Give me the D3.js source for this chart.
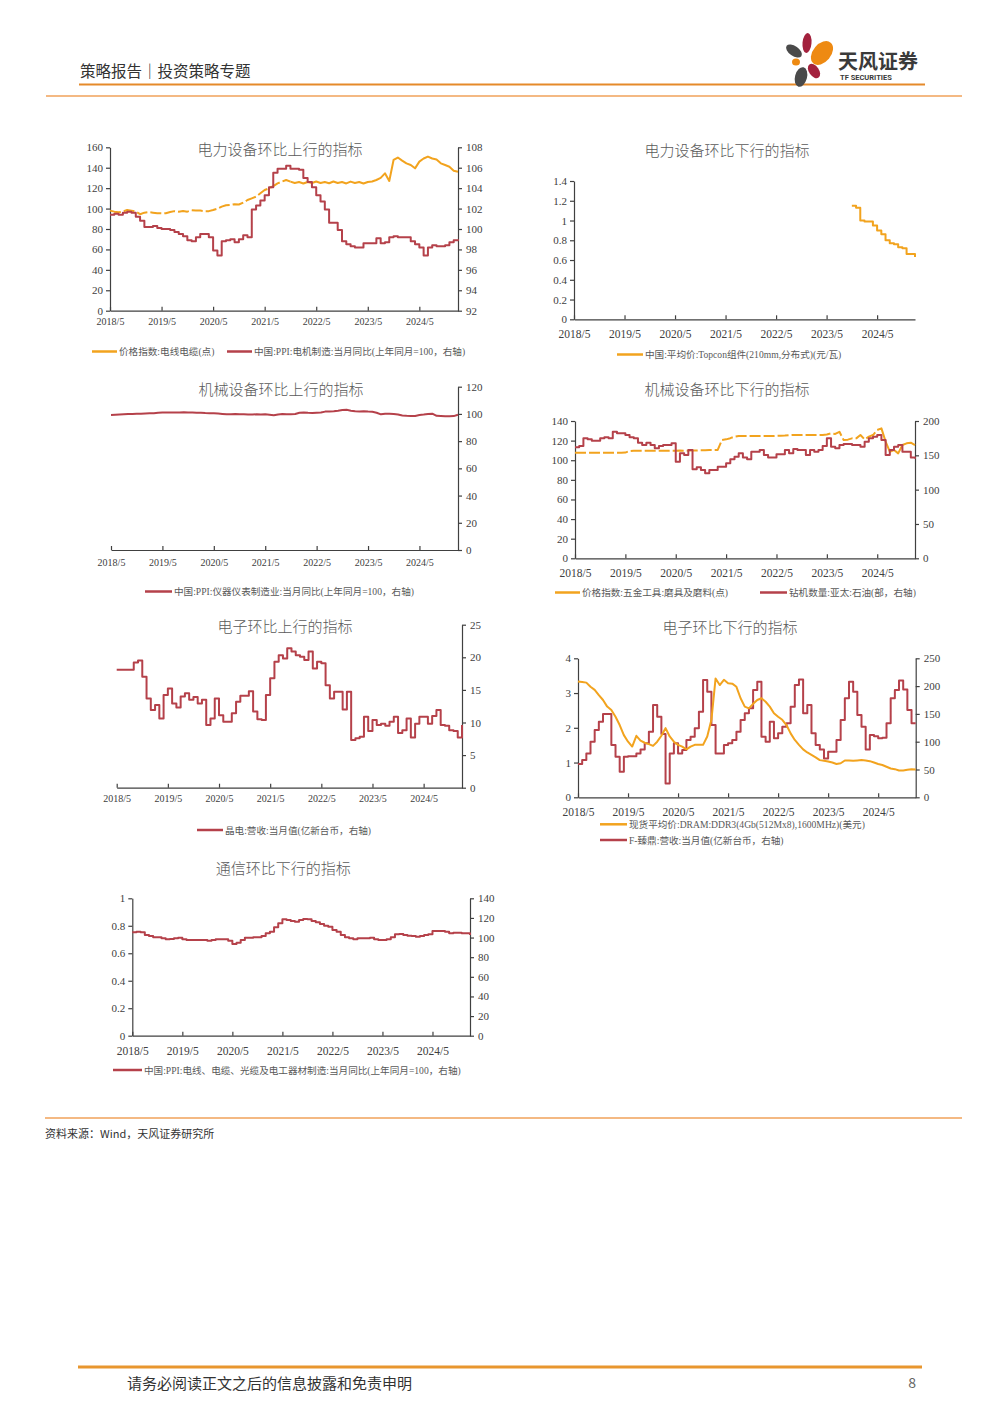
<!DOCTYPE html>
<html>
<head>
<meta charset="utf-8">
<script src="https://cdn.jsdelivr.net/npm/d3@7"></script>
<style>
  body { margin: 0; background: #fff; }
  svg { display: block; }
</style>
</head>
<body>
<div id="page"></div>
<script>
// ---------- data (monthly, 2018/5 .. 2025/2) ----------
const xTickLabels = ["2018/5", "2019/5", "2020/5", "2021/5", "2022/5", "2023/5", "2024/5"];
const monthCount = 82;

// 电力设备环比上行
const cableIndex = [
  98, 97, 96.5, 97, 98.6, 98, 97, 94.5, 96, 96.5,
  96, 95.5, 95.3, 95.5, 96.6, 97.5, 97, 97.6, 97, 98.3,
  98, 98, 97.5, 97.5, 98.6, 99.9, 101.9, 103.2, 103.5, 104.2,
  104, 105.8, 108.4, 110, 111.7, 115, 118.2, 119.8, 122, 124.7,
  126.4, 128, 126.4, 125, 126, 124.5, 126, 125, 126.5, 125,
  126, 124.8, 126.5, 125, 126, 124.6, 126.4, 125, 126, 124.5,
  126, 126.5, 128, 130, 134.5, 127, 147.6, 150, 147, 144.3,
  142.7, 139.4, 146, 149, 150.9, 149, 148, 144.3, 142.7, 141,
  137, 136
];
const motorPPI = [
  101.4, 101.5, 101.4, 101.6, 101.7, 101.6, 101.2, 100.8, 100.2, 100.2,
  100.3, 100.1, 100.0, 100.0, 99.9, 99.7, 99.5, 99.3, 98.9, 98.8,
  99.2, 99.5, 99.5, 99.2, 97.9, 97.4, 98.8, 98.9, 99.0, 98.7,
  99.0, 99.4, 99.2, 101.9, 102.3, 102.8, 103.3, 104.1, 105.5, 105.9,
  105.9, 106.2, 105.9, 105.9, 105.8, 105.0, 104.6, 104.1, 103.3, 102.7,
  101.9, 100.6, 100.6, 99.9, 98.8, 98.5, 98.3, 98.2, 98.2, 98.6,
  98.6, 98.6, 99.1, 98.6, 98.7, 99.2, 99.3, 99.2, 99.2, 99.2,
  98.8, 98.5, 98.2, 97.4, 98.2, 98.4, 98.3, 98.3, 98.4, 98.7,
  98.9, 99.0
];

// 电力设备环比下行 (Topcon starts 2023/11)
const topconStart = 66;
const topconPrice = [1.15, 1.13, 1.0, 0.99, 0.99, 0.95, 0.90, 0.86, 0.80, 0.77, 0.76, 0.73, 0.72, 0.66, 0.66, 0.63];

// 机械设备环比上行
const instrumentPPI = [
  99.2, 99.4, 99.6, 99.8, 99.9, 100.0, 100.1, 100.2, 100.3, 100.4,
  100.5, 100.8, 101.0, 101.1, 101.1, 101.0, 101.1, 101.2, 101.0, 101.1,
  100.9, 100.8, 100.6, 100.5, 100.4, 100.3, 100.0, 99.7, 99.8, 99.9,
  99.7, 99.8, 99.6, 99.5, 99.7, 99.5, 99.7, 99.4, 99.0, 99.6,
  99.9, 99.8, 99.8, 99.9, 100.9, 101.0, 100.8, 100.7, 100.9, 101.0,
  101.7, 101.8, 102.0, 102.4, 102.9, 103.0, 102.4, 101.9, 101.8, 102.0,
  101.7, 101.6, 100.9, 99.7, 100.2, 100.1, 100.0, 99.6, 98.9, 98.6,
  98.5, 98.5, 99.2, 99.5, 99.9, 100.2, 98.6, 98.5, 98.2, 98.3,
  98.4, 99.4
];

// 机械设备环比下行
const abrasivesIndex = [
  107.7, 107.7, 107.7, 107.6, 107.7, 107.7, 107.6, 107.7, 107.7, 107.6,
  107.7, 107.7, 107.8, 109.4, 109.7, 109.7, 109.6, 109.7, 109.7, 109.6,
  109.7, 109.7, 109.6, 109.7, 109.7, 109.8, 109.7, 109.8, 109.9, 110.0,
  110.1, 110.3, 110.4, 110.4, 110.5, 120.6, 121.3, 122.5, 124.0, 124.7,
  124.7, 124.7, 124.8, 124.7, 124.7, 124.8, 124.7, 124.7, 124.9, 125.0,
  125.2, 125.5, 125.7, 125.7, 125.6, 125.7, 125.7, 125.6, 125.7, 125.8,
  126.2, 127.4, 126.8, 129.0, 120.6, 121.0, 122.3, 122.3, 125.7, 121.3,
  124.0, 125.7, 130.8, 132.5, 119.0, 108.7, 110.4, 107.0, 115.5, 117.2,
  117.9, 115.5
];
const rigCountAPAC = [
  161.7, 163.6, 174.8, 173.3, 171.4, 171.4, 174.8, 176.2, 174.8, 184.5,
  182, 182, 179.6, 176.2, 174.8, 168.4, 165, 168.4, 165, 160.2,
  163.6, 165, 165, 167.5, 140.8, 152.9, 150.5, 157.8, 129.6, 132.5,
  128.6, 123.8, 128.6, 128.6, 133.5, 133.5, 138.3, 144.2, 148, 152.9,
  147, 144.2, 155.3, 155.3, 157.8, 150.5, 147, 147, 151.5, 151.5,
  157.8, 153, 159.2, 157.8, 157.8, 150.5, 157.8, 155.3, 157.8, 163.6,
  174.8, 162.6, 160.2, 165, 166.5, 166.5, 165, 165, 162.6, 169.9,
  174.8, 177.2, 179.6, 172.3, 150.5, 157.8, 162.6, 165, 155.3, 155.3,
  147, 145
];

// 电子环比上行
const epistarRevenue = [
  18.1, 18.1, 18.1, 18.1, 19.2, 19.5, 17.0, 13.7, 11.9, 12.7,
  10.6, 14.2, 15.2, 12.9, 12.3, 14.0, 14.5, 13.5, 13.9, 12.9,
  13.5, 9.6, 10.6, 13.7, 11.1, 10.1, 10.1, 11.4, 13.2, 14.1,
  14.1, 14.8, 11.7, 10.5, 10.4, 14.2, 16.8, 19.3, 20.3, 19.8,
  21.4, 20.9, 20.3, 20.1, 19.6, 20.9, 18.3, 19.3, 19.1, 15.7,
  13.7, 14.7, 14.7, 12.0, 14.7, 7.3, 7.6, 7.8, 10.9, 8.7,
  10.4, 9.6, 9.8, 9.5, 10.1, 10.9, 8.4, 8.8, 10.6, 7.7,
  9.8, 10.9, 10.9, 9.8, 11.0, 11.9, 9.6, 9.5, 8.8, 8.7,
  7.7, 9.6
];

// 电子环比下行
const dramPrice = [
  3.33, 3.32, 3.30, 3.18, 3.09, 2.94, 2.80, 2.61, 2.51, 2.32,
  2.08, 1.79, 1.60, 1.46, 1.77, 1.63, 1.57, 1.53, 1.48, 1.60,
  1.77, 1.99, 1.75, 1.60, 1.51, 1.46, 1.38, 1.46, 1.51, 1.51,
  1.51, 1.75, 2.23, 3.42, 3.23, 3.38, 3.28, 3.27, 3.18, 2.85,
  2.61, 2.56, 2.69, 2.80, 2.85, 2.75, 2.61, 2.42, 2.32, 2.23,
  2.08, 1.84, 1.65, 1.51, 1.38, 1.29, 1.22, 1.15, 1.07, 1.05,
  1.03, 1.00, 0.96, 0.98, 1.06, 1.06, 1.05, 1.06, 1.07, 1.06,
  1.04, 1.00, 0.96, 0.93, 0.88, 0.83, 0.81, 0.77, 0.77, 0.79,
  0.81, 0.80
];
const zhendingRevenue = [
  60, 67, 79, 100, 121, 136, 150, 150, 94, 73,
  46, 73, 74, 74, 79, 86, 97, 118, 166, 145,
  114, 25, 79, 97, 79, 85, 103, 109, 124, 154,
  211, 190, 130, 79, 79, 94, 97, 103, 118, 139,
  151, 160, 193, 208, 109, 100, 136, 106, 115, 127,
  133, 163, 202, 212, 151, 166, 115, 94, 86, 70,
  82, 82, 103, 139, 178, 208, 190, 148, 127, 86,
  112, 110, 106, 107, 133, 178, 193, 210, 194, 157,
  133, 133
];

// 通信环比下行
const cablePPI = [
  105.3, 106, 105.3, 102.6, 101.6, 100.2, 100.2, 99.2, 98.2, 98.5,
  99.2, 99.9, 98.2, 97.5, 97.5, 97.5, 97.5, 97.5, 96.8, 97.5,
  98.2, 98.2, 98.2, 96.8, 93.4, 94.8, 97.5, 99.9, 99.9, 100.2,
  100.2, 101.6, 104.3, 106, 110.4, 114.5, 118.6, 117.9, 116.9, 116.2,
  117.9, 118.9, 118.6, 116.9, 115.5, 113.8, 112.1, 111.1, 107.7, 106,
  102.6, 100.2, 99.2, 98.2, 99.2, 99.2, 99.2, 99.9, 98.2, 97.5,
  97.5, 98.2, 100.2, 103.3, 103.6, 102.6, 101.9, 101.6, 100.9, 101.6,
  102.6, 103.3, 106.7, 106.7, 106.7, 106, 104.3, 105, 105, 104.3,
  104.3, 102.6
];

// ---------- styles ----------
const ORANGE = "#F2A31E";
const RED = "#B5414A";
const AXIS = "#404040";
const TEXT = "#595959";
const serif = "'Liberation Serif', 'Times New Roman', 'Noto Sans CJK SC', serif";
const cjk = "'Noto Sans CJK SC', 'Noto Sans', sans-serif";

const svg = d3.select("#page")
  .append("svg")
  .attr("width", 1000)
  .attr("height", 1414)
  .attr("viewBox", "0 0 1000 1414");

renderHeader(svg);
renderFooter(svg);

const charts = [
  {
    x0: 110, x1: 458, yTop: 147.3, yBot: 310.7,
    left: { domain: [0, 160], step: 20 }, right: { domain: [92, 108], step: 2 },
    title: { x: 280, y: 148.5, text: "电力设备环比上行的指标" },
    xLabelY: 322, xFont: 10, yFont: 11,
    series: [
      { values: cableIndex, axis: "left", color: ORANGE, dashUntil: 42 },
      { values: motorPPI, axis: "right", color: RED, step: true },
    ],
    legends: [
      { x1: 92, x2: 117, y: 351.5, color: ORANGE, text: "价格指数:电线电缆(点)" },
      { x1: 227, x2: 252, y: 351.5, color: RED, text: "中国:PPI:电机制造:当月同比(上年同月=100，右轴)" },
    ],
  },
  {
    x0: 574, x1: 915, yTop: 181, yBot: 319.3,
    left: { domain: [0, 1.4], step: 0.2 }, right: null,
    title: { x: 727, y: 149.5, text: "电力设备环比下行的指标" },
    xLabelY: 334, xFont: 11.5, yFont: 11,
    series: [
      { values: topconPrice, start: topconStart, axis: "left", color: ORANGE, step: true },
    ],
    legends: [
      { x1: 617, x2: 643, y: 354.5, color: ORANGE, text: "中国:平均价:Topcon组件(210mm,分布式)(元/瓦)" },
    ],
  },
  {
    x0: 111, x1: 458, yTop: 386.7, yBot: 550,
    left: null, right: { domain: [0, 120], step: 20 },
    title: { x: 281, y: 388, text: "机械设备环比上行的指标" },
    xLabelY: 562, xFont: 10, yFont: 11,
    series: [
      { values: instrumentPPI, axis: "right", color: RED },
    ],
    legends: [
      { x1: 145, x2: 172, y: 591.5, color: RED, text: "中国:PPI:仪器仪表制造业:当月同比(上年同月=100，右轴)" },
    ],
  },
  {
    x0: 575, x1: 915, yTop: 421, yBot: 558.3,
    left: { domain: [0, 140], step: 20 }, right: { domain: [0, 200], step: 50 },
    title: { x: 727, y: 388.5, text: "机械设备环比下行的指标" },
    xLabelY: 572.7, xFont: 11.5, yFont: 11,
    series: [
      { values: abrasivesIndex, axis: "left", color: ORANGE, dashUntil: 72 },
      { values: rigCountAPAC, axis: "right", color: RED, step: true },
    ],
    legends: [
      { x1: 555, x2: 580, y: 592.5, color: ORANGE, text: "价格指数:五金工具:磨具及磨料(点)" },
      { x1: 760, x2: 787, y: 592.5, color: RED, text: "钻机数量:亚太:石油(部，右轴)" },
    ],
  },
  {
    x0: 116.7, x1: 462, yTop: 624.7, yBot: 787.7,
    left: null, right: { domain: [0, 25], step: 5 },
    title: { x: 285, y: 625.5, text: "电子环比上行的指标" },
    xLabelY: 799, xFont: 10, yFont: 11,
    series: [
      { values: epistarRevenue, axis: "right", color: RED, step: true },
    ],
    legends: [
      { x1: 197, x2: 223, y: 830, color: RED, text: "晶电:营收:当月值(亿新台币，右轴)" },
    ],
  },
  {
    x0: 578, x1: 915.7, yTop: 658.3, yBot: 797.3,
    left: { domain: [0, 4], step: 1 }, right: { domain: [0, 250], step: 50 },
    title: { x: 730, y: 626.5, text: "电子环比下行的指标" },
    xLabelY: 811.7, xFont: 11.5, yFont: 11,
    series: [
      { values: zhendingRevenue, axis: "right", color: RED, step: true },
      { values: dramPrice, axis: "left", color: ORANGE },
    ],
    legends: [
      { x1: 600, x2: 627, y: 824.3, color: ORANGE, text: "现货平均价:DRAM:DDR3(4Gb(512Mx8),1600MHz)(美元)" },
      { x1: 600, x2: 627, y: 840, color: RED, text: "F-臻鼎:营收:当月值(亿新台币，右轴)" },
    ],
  },
  {
    x0: 132.3, x1: 470, yTop: 898.3, yBot: 1035.7,
    left: { domain: [0, 1], step: 0.2 }, right: { domain: [0, 140], step: 20 },
    title: { x: 283.3, y: 867, text: "通信环比下行的指标" },
    xLabelY: 1051, xFont: 11.5, yFont: 11,
    series: [
      { values: cablePPI, axis: "right", color: RED, step: true },
    ],
    legends: [
      { x1: 113, x2: 142, y: 1070, color: RED, text: "中国:PPI:电线、电缆、光缆及电工器材制造:当月同比(上年同月=100，右轴)" },
    ],
  },
];

charts.forEach(cfg => renderChart(svg.append("g").attr("class", "chart"), cfg));

function tickList(axis) {
  const n = Math.round((axis.domain[1] - axis.domain[0]) / axis.step);
  return d3.range(n + 1).map(i => +(axis.domain[0] + i * axis.step).toFixed(2));
}

function styleAxis(g, fontSize) {
  g.select(".domain").attr("stroke", AXIS).attr("stroke-width", 1.2);
  g.selectAll(".tick line").attr("stroke", AXIS).attr("stroke-width", 1.2);
  g.selectAll(".tick text")
    .attr("font-family", serif)
    .attr("font-size", fontSize)
    .attr("fill", "#404040");
}

function renderChart(root, cfg) {
  // scales
  const scaleX = d3.scaleLinear().domain([0, monthCount - 1]).range([cfg.x0, cfg.x1]);
  const scales = {};
  if (cfg.left) scales.left = d3.scaleLinear().domain(cfg.left.domain).range([cfg.yBot, cfg.yTop]);
  if (cfg.right) scales.right = d3.scaleLinear().domain(cfg.right.domain).range([cfg.yBot, cfg.yTop]);

  // title
  root.append("text")
    .attr("x", cfg.title.x)
    .attr("y", cfg.title.y)
    .attr("text-anchor", "middle")
    .attr("dominant-baseline", "central")
    .attr("font-family", cjk)
    .attr("font-weight", 300)
    .attr("font-size", 15)
    .attr("fill", TEXT)
    .text(cfg.title.text);

  // axes (x ticks point up into the plot)
  const gx = root.append("g")
    .attr("transform", `translate(0,${cfg.yBot})`)
    .call(d3.axisBottom(scaleX)
      .tickValues(xTickLabels.map((d, i) => i * 12))
      .tickFormat((d, i) => xTickLabels[i])
      .tickSize(-4)
      .tickSizeOuter(0));
  styleAxis(gx, cfg.xFont);
  gx.selectAll(".tick text").attr("y", cfg.xLabelY - cfg.yBot).attr("dy", "0.35em");

  if (cfg.left) {
    const gl = root.append("g")
      .attr("transform", `translate(${cfg.x0},0)`)
      .call(d3.axisLeft(scales.left).tickValues(tickList(cfg.left)).tickFormat(d => d).tickSize(4).tickSizeOuter(0));
    styleAxis(gl, cfg.yFont);
    gl.selectAll(".tick text").attr("x", -7);
  }
  if (cfg.right) {
    const gr = root.append("g")
      .attr("transform", `translate(${cfg.x1},0)`)
      .call(d3.axisRight(scales.right).tickValues(tickList(cfg.right)).tickFormat(d => d).tickSize(4).tickSizeOuter(0));
    styleAxis(gr, cfg.yFont);
    gr.selectAll(".tick text").attr("x", 8);
  }

  // series
  cfg.series.forEach(s => {
    const scaleY = scales[s.axis];
    const pts = s.values.map((v, i) => ({ i: i + (s.start || 0), v }));
    const line = d3.line()
      .x(d => scaleX(d.i))
      .y(d => scaleY(d.v))
      .curve(s.step ? d3.curveStepAfter : d3.curveLinear);
    const draw = (data, dash) => root.append("path")
      .datum(data)
      .attr("fill", "none")
      .attr("stroke", s.color)
      .attr("stroke-width", 2)
      .attr("stroke-linejoin", "round")
      .attr("stroke-dasharray", dash)
      .attr("d", line);
    if (s.dashUntil != null) {
      draw(pts.filter(d => d.i <= s.dashUntil), "11,3");
      draw(pts.filter(d => d.i >= s.dashUntil), null);
    } else {
      draw(pts, null);
    }
  });

  // legends
  const lg = root.append("g").attr("class", "legend");
  cfg.legends.forEach(l => {
    lg.append("line")
      .attr("x1", l.x1).attr("x2", l.x2)
      .attr("y1", l.y).attr("y2", l.y)
      .attr("stroke", l.color)
      .attr("stroke-width", 2.5);
    lg.append("text")
      .attr("x", l.x2 + 2)
      .attr("y", l.y)
      .attr("dominant-baseline", "central")
      .attr("font-family", serif)
      .attr("font-size", 9.6)
      .attr("fill", TEXT)
      .text(l.text);
  });
}

function renderHeader(root) {
  const g = root.append("g").attr("class", "header");
  g.append("text")
    .attr("x", 80).attr("y", 70)
    .attr("dominant-baseline", "central")
    .attr("font-family", cjk)
    .attr("font-size", 15.5)
    .attr("fill", "#333")
    .text("策略报告｜投资策略专题");
  g.append("line").attr("x1", 79).attr("x2", 925).attr("y1", 84.5).attr("y2", 84.5)
    .attr("stroke", "#E58A2A").attr("stroke-width", 2);
  g.append("line").attr("x1", 46).attr("x2", 962).attr("y1", 96).attr("y2", 96)
    .attr("stroke", "#F0A25A").attr("stroke-width", 1.5);

  // logo petals
  const petals = [
    { cx: 807, cy: 43, rx: 4.5, ry: 10, rot: 5, c: "#A3213D" },
    { cx: 822, cy: 53, rx: 9, ry: 13.5, rot: 40, c: "#EE8A12" },
    { cx: 794, cy: 51, rx: 5, ry: 9, rot: -55, c: "#4A4A4A" },
    { cx: 796, cy: 62, rx: 4, ry: 3.5, rot: 0, c: "#EE8A12" },
    { cx: 814, cy: 71, rx: 5, ry: 8, rot: -35, c: "#A3213D" },
    { cx: 801, cy: 77, rx: 6, ry: 10, rot: 15, c: "#4A4A4A" },
  ];
  g.selectAll("ellipse")
    .data(petals)
    .join("ellipse")
    .attr("cx", d => d.cx).attr("cy", d => d.cy)
    .attr("rx", d => d.rx).attr("ry", d => d.ry)
    .attr("transform", d => `rotate(${d.rot},${d.cx},${d.cy})`)
    .attr("fill", d => d.c);
  g.append("text")
    .attr("x", 838).attr("y", 60)
    .attr("dominant-baseline", "central")
    .attr("font-family", cjk)
    .attr("font-weight", 700)
    .attr("font-size", 20)
    .attr("fill", "#3A3A3A")
    .text("天风证券");
  g.append("text")
    .attr("x", 840).attr("y", 77.5)
    .attr("dominant-baseline", "central")
    .attr("font-family", "'Roboto', 'Noto Sans', sans-serif")
    .attr("font-weight", 700)
    .attr("font-size", 7.5)
    .attr("fill", "#3A3A3A")
    .text("TF SECURITIES");
}

function renderFooter(root) {
  const g = root.append("g").attr("class", "footer");
  g.append("line").attr("x1", 45).attr("x2", 962).attr("y1", 1118).attr("y2", 1118)
    .attr("stroke", "#F0A25A").attr("stroke-width", 1.5);
  g.append("text")
    .attr("x", 45).attr("y", 1133)
    .attr("dominant-baseline", "central")
    .attr("font-family", cjk)
    .attr("font-size", 11)
    .attr("fill", "#333")
    .text("资料来源：Wind，天风证券研究所");
  g.append("line").attr("x1", 78).attr("x2", 922).attr("y1", 1367).attr("y2", 1367)
    .attr("stroke", "#E8962E").attr("stroke-width", 3);
  g.append("text")
    .attr("x", 127).attr("y", 1382)
    .attr("dominant-baseline", "central")
    .attr("font-family", cjk)
    .attr("font-size", 15)
    .attr("fill", "#333")
    .text("请务必阅读正文之后的信息披露和免责申明");
  g.append("text")
    .attr("x", 916).attr("y", 1382)
    .attr("text-anchor", "end")
    .attr("dominant-baseline", "central")
    .attr("font-family", cjk)
    .attr("font-size", 14)
    .attr("fill", "#666")
    .text("8");
}
</script>
</body>
</html>
